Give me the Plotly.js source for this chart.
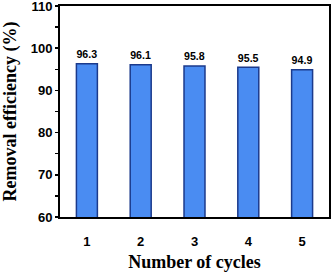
<!DOCTYPE html>
<html><head><meta charset="utf-8">
<script src="https://cdn.plot.ly/plotly-3.0.1.min.js"></script>
<style>html,body{margin:0;padding:0;background:#fff}#c{width:333px;height:275px}</style>
</head><body><div id="c"></div>
<script>
const cycles = ['1','2','3','4','5'];
const efficiency = [96.3, 96.1, 95.8, 95.5, 94.9];
const yTickVals = [60,65,70,75,80,85,90,95,100,105,110];
const yTickText = ['60','','70','','80','','90','','100','','110'];

const trace = {
  type: 'bar',
  x: cycles,
  y: efficiency,
  width: 0.39,
  marker: {color: '#4a8cf2', line: {color: '#1b3a8c', width: 1.5}},
  text: efficiency.map(v => v.toFixed(1)),
  textposition: 'outside',
  cliponaxis: false,
  textfont: {family: 'Liberation Sans, Arial, sans-serif', size: 12, color: '#000', weight: 'bold'},
  hoverinfo: 'none'
};

const layout = {
  width: 333, height: 275,
  margin: {l: 60, r: 4, t: 6, b: 58},
  paper_bgcolor: '#fff', plot_bgcolor: '#fff',
  showlegend: false,
  bargap: 0.6,
  xaxis: {
    type: 'category',
    range: [-0.5, 4.5],
    showline: true, linecolor: '#000', linewidth: 2, mirror: true,
    ticks: '', showgrid: false, zeroline: false,
    ticklabelstandoff: 11,
    tickfont: {family: 'Liberation Sans, Arial, sans-serif', size: 13, color: '#000', weight: 'bold'},
    title: {text: 'Number of cycles', standoff: 8,
      font: {family: 'Liberation Serif, Times New Roman, serif', size: 18, color: '#000', weight: 'bold'}}
  },
  yaxis: {
    range: [60, 110],
    tickmode: 'array', tickvals: yTickVals, ticktext: yTickText,
    ticks: 'outside', ticklen: 3, tickwidth: 1.5, tickcolor: '#000',
    ticklabeloverflow: 'allow',
    showline: true, linecolor: '#000', linewidth: 2, mirror: true,
    showgrid: false, zeroline: false,
    tickfont: {family: 'Liberation Sans, Arial, sans-serif', size: 13, color: '#000', weight: 'bold'},
    title: {text: 'Removal efficiency (%)', standoff: 10,
      font: {family: 'Liberation Serif, Times New Roman, serif', size: 18, color: '#000', weight: 'bold'}}
  }
};

Plotly.newPlot('c', [trace], layout, {staticPlot: true, displayModeBar: false});
</script></body></html>
